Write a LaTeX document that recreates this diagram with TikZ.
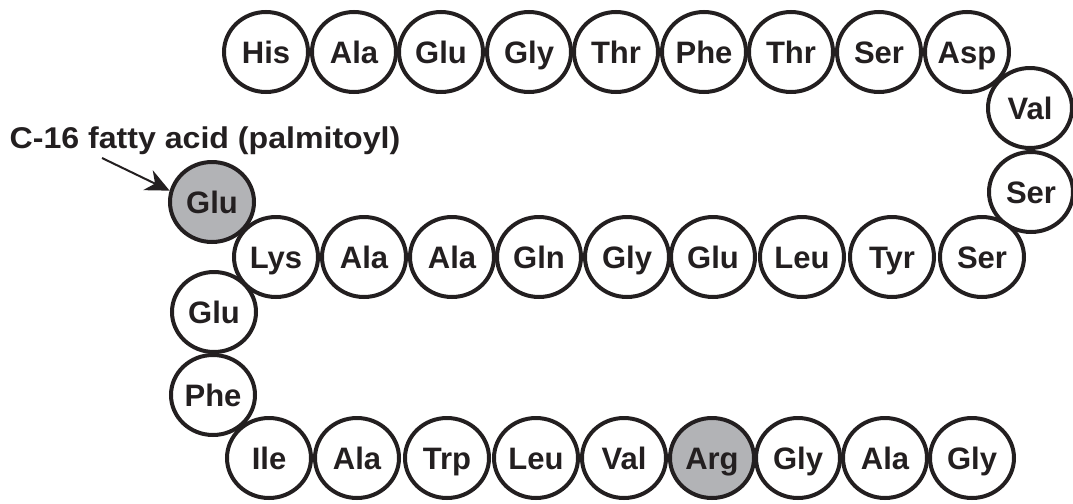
\documentclass[tikz,border=0pt]{standalone}
\usepackage{fontspec}
\setmainfont{Liberation Sans}
\usepackage{graphicx}
\usetikzlibrary{shapes.geometric,arrows.meta}

\definecolor{ink}{HTML}{231F20}
\definecolor{modgray}{HTML}{B2B3B6}

\tikzset{
  res/.style={ellipse, draw=ink, line width=2pt, minimum width=42pt,
    minimum height=40pt, inner sep=0pt, text=ink,
    font=\fontsize{15.5pt}{17pt}\selectfont\bfseries,
    text height=11.1pt, text depth=0pt},
  modres/.style={res, fill=modgray}
}

\begin{document}
\begin{tikzpicture}[x=0.5pt, y=-0.5pt]
  \useasboundingbox (0,0) rectangle (1073,504);

  % modified residues first, so neighbours' outlines stay on top
  \node[modres](glu3) at (212,202) {Glu};
  \node[modres](arg) at (712,458) {Arg};

  % top row
  \node[res](his) at (266,52) {His};
  \node[res](ala1) at (354,52) {Ala};
  \node[res](glu1) at (441,52) {Glu};
  \node[res](gly1) at (529,52) {Gly};
  \node[res](thr1) at (616,52) {Thr};
  \node[res](phe1) at (704,52) {Phe};
  \node[res](thr2) at (791,52) {Thr};
  \node[res](ser1) at (879,52) {Ser};
  \node[res](asp) at (967,52) {Asp};

  % turn
  \node[res](val1) at (1030,108) {Val};
  \node[res](ser2) at (1031,192) {Ser};

  % middle row
  \node[res](ser3) at (982,257) {Ser};
  \node[res](tyr) at (892,257) {Tyr};
  \node[res](leu1) at (802,257) {Leu};
  \node[res](glu2) at (713,257) {Glu};
  \node[res](gly2) at (627,257) {Gly};
  \node[res](gln) at (539,257) {Gln};
  \node[res](ala2) at (452,257) {Ala};
  \node[res](ala3) at (364,257) {Ala};
  \node[res](lys) at (276,257) {Lys};

  % left side
  \node[res](glu4) at (214,312) {Glu};
  \node[res](phe2) at (213,395) {Phe};

  % bottom row
  \node[res](ile) at (269,458) {Ile};
  \node[res](ala4) at (357,458) {Ala};
  \node[res](trp) at (447,458) {Trp};
  \node[res](leu2) at (536,458) {Leu};
  \node[res](val2) at (624,458) {Val};
  \node[res](gly3) at (798,458) {Gly};
  \node[res](ala5) at (885,458) {Ala};
  \node[res](gly4) at (972,458) {Gly};

  % palmitoyl label
  \node[anchor=base, inner sep=0pt, text=ink](palm) at (205,148)
    {\scalebox{1.07}[1]{\fontsize{15pt}{17pt}\selectfont\bfseries C-16 fatty acid (palmitoyl)}};
  \coordinate (palmtail) at (102,158);
  \draw[-{Stealth[length=12pt, width=11pt]}, draw=ink, fill=ink, line width=1pt]
    (palmtail) -- (glu3.165);
\end{tikzpicture}
\end{document}
